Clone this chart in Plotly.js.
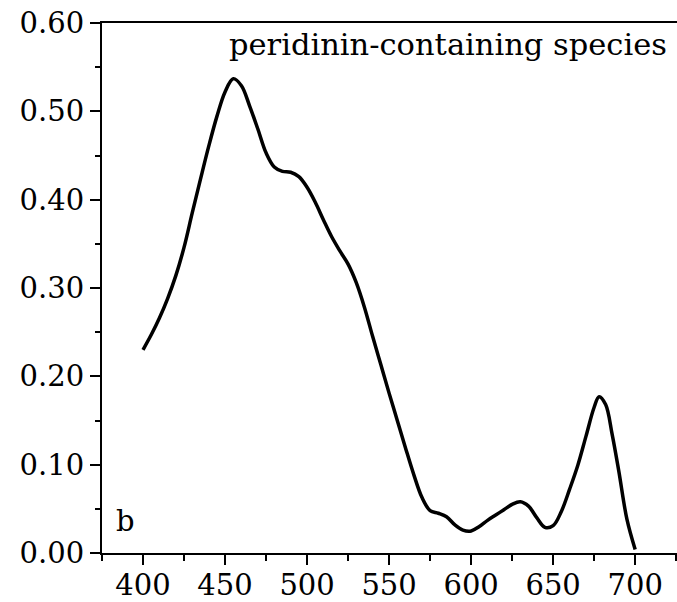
<!DOCTYPE html>
<html>
<head>
<meta charset="utf-8">
<script src="https://cdn.plot.ly/plotly-3.0.1.min.js"></script>
<style>html,body{margin:0;padding:0;background:#fff;}#chart{width:677px;height:602px;}</style>
</head>
<body>
<div id="chart"></div>
<script>
const wavelength = [400,405,410,415,420,425,430,435,440,445,450,455,460,465,470,475,480,485,490,495,500,505,510,515,520,525,530,535,540,545,550,555,560,565,570,575,580,585,590,595,600,605,610,615,620,625,630,635,640,645,650,655,660,665,670,675,678,682,686,690,695,700];
const absorption = [0.230,0.247,0.266,0.288,0.314,0.346,0.385,0.423,0.460,0.494,0.522,0.537,0.529,0.506,0.480,0.453,0.437,0.432,0.431,0.426,0.414,0.397,0.377,0.358,0.342,0.327,0.306,0.278,0.245,0.213,0.181,0.150,0.119,0.089,0.063,0.048,0.045,0.041,0.032,0.026,0.025,0.030,0.037,0.043,0.049,0.055,0.058,0.053,0.040,0.029,0.031,0.047,0.072,0.099,0.132,0.165,0.177,0.168,0.134,0.093,0.038,0.004];
const xTicks = [400,450,500,550,600,650,700];
const yTicks = [0,0.1,0.2,0.3,0.4,0.5,0.6];
const labelText = "peridinin-containing species";
const panelLabel = "b";

const font = {family: "DejaVu Serif", size: 29, color: "#000"};
const annFont = {family: "DejaVu Serif", size: 30.5, color: "#000"};

Plotly.newPlot("chart", [{
  x: wavelength, y: absorption, type: "scatter", mode: "lines",
  line: {color: "#000", width: 3.5, shape: "spline", smoothing: 1},
  hoverinfo: "skip"
}], {
  width: 677, height: 602,
  margin: {l: 102, r: 0, t: 23, b: 49, pad: 0},
  paper_bgcolor: "#fff", plot_bgcolor: "#fff",
  showlegend: false,
  font: font,
  xaxis: {
    range: [375, 725.5], tickvals: xTicks, ticktext: xTicks.map(String),
    showline: true, linewidth: 2, linecolor: "#000", mirror: true,
    ticks: "outside", ticklen: 10, tickwidth: 2, tickcolor: "#000",
    ticklabelstandoff: -5,
    minor: {dtick: 25, tick0: 375, ticks: "outside", ticklen: 6, tickwidth: 2, tickcolor: "#000"},
    showgrid: false, zeroline: false, tickfont: font, fixedrange: true
  },
  yaxis: {
    range: [0, 0.6], tickvals: yTicks, ticktext: yTicks.map(v => v.toFixed(2)),
    showline: true, linewidth: 2, linecolor: "#000", mirror: false,
    ticks: "outside", ticklen: 10, tickwidth: 2, tickcolor: "#000",
    minor: {dtick: 0.05, tick0: 0, ticks: "outside", ticklen: 5, tickwidth: 2, tickcolor: "#000"},
    showgrid: false, zeroline: false, tickfont: font, fixedrange: true
  },
  annotations: [
    {xref: "paper", yref: "paper", x: 0.986, y: 0.96, xanchor: "right", yanchor: "middle",
     text: labelText, showarrow: false, font: annFont},
    {xref: "paper", yref: "paper", x: 0.0405, y: 0.06, xanchor: "center", yanchor: "middle",
     text: panelLabel, showarrow: false, font: font}
  ]
}, {displayModeBar: false, staticPlot: true});
</script>
</body>
</html>
